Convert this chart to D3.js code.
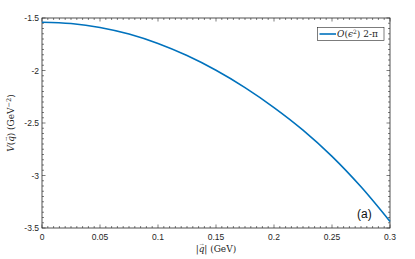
<!DOCTYPE html>
<html>
<head>
<meta charset="utf-8">
<script src="https://cdn.jsdelivr.net/npm/d3@7"></script>
<style>
  body { margin: 0; background: #fff; }
  svg { display: block; }
  .tick-label { font-family: 'Liberation Sans', Arial, sans-serif; font-size: 8.5px; fill: #262626; }
  .axis-title { font-family: 'DejaVu Serif', 'Liberation Serif', serif; font-size: 9px; fill: #262626; }
</style>
</head>
<body>
<div id="chart"></div>
<script>
// momentum |q| (GeV) and potential V(q) (GeV^-2)
var qValues = [0, 0.025, 0.05, 0.075, 0.1, 0.125, 0.15, 0.175, 0.2, 0.225, 0.25, 0.275, 0.3]
var vValues = [-1.540, -1.553, -1.590, -1.653, -1.743, -1.858, -1.998, -2.163, -2.353, -2.568, -2.818, -3.108, -3.438]

var xTicks = [0, 0.05, 0.1, 0.15, 0.2, 0.25, 0.3]
var xTickLabels = ['0', '0.05', '0.1', '0.15', '0.2', '0.25', '0.3']
var yTicks = [-1.5, -2, -2.5, -3, -3.5]
var yTickLabels = ['-1.5', '-2', '-2.5', '-3', '-3.5']

var seriesName = '2-\u03c0'

var svgWidth = 415
var svgHeight = 259
var margin = { top: 18, right: 25, bottom: 31, left: 42 }
var width = svgWidth - margin.left - margin.right
var height = svgHeight - margin.top - margin.bottom

var svg = d3.select('#chart')
  .append('svg')
  .attr('width', svgWidth)
  .attr('height', svgHeight)

var g = svg.append('g')
  .attr('transform', `translate(${margin.left}, ${margin.top})`)

var x = d3.scaleLinear().domain([0, 0.3]).range([0, width])
var y = d3.scaleLinear().domain([-3.5, -1.5]).range([height, 0])

var axisColor = '#262626'

// minor ticks (inward, all four sides)
var xMinor = d3.range(0, 61).map(i => i * 0.005)
var yMinor = d3.range(0, 41).map(i => -3.5 + i * 0.05)

var tickG = g.append('g').attr('stroke', axisColor).attr('stroke-width', 0.6)

xMinor.forEach(function (v) {
  var major = xTicks.some(t => Math.abs(t - v) < 1e-9)
  var len = major ? 3.5 : 2
  tickG.append('line').attr('x1', x(v)).attr('x2', x(v)).attr('y1', height).attr('y2', height - len)
  tickG.append('line').attr('x1', x(v)).attr('x2', x(v)).attr('y1', 0).attr('y2', len)
})
yMinor.forEach(function (v) {
  var major = yTicks.some(t => Math.abs(t - v) < 1e-9)
  var len = major ? 3.5 : 2
  tickG.append('line').attr('x1', 0).attr('x2', len).attr('y1', y(v)).attr('y2', y(v))
  tickG.append('line').attr('x1', width).attr('x2', width - len).attr('y1', y(v)).attr('y2', y(v))
})

// frame
g.append('rect')
  .attr('x', 0).attr('y', 0)
  .attr('width', width).attr('height', height)
  .attr('fill', 'none')
  .attr('stroke', axisColor)
  .attr('stroke-width', 0.8)

// tick labels
g.selectAll('.xlab')
  .data(xTicks)
  .enter()
  .append('text')
  .attr('class', 'tick-label')
  .attr('x', d => x(d))
  .attr('y', height + 12)
  .attr('text-anchor', 'middle')
  .text((d, i) => xTickLabels[i])

g.selectAll('.ylab')
  .data(yTicks)
  .enter()
  .append('text')
  .attr('class', 'tick-label')
  .attr('x', -3)
  .attr('y', d => y(d) + 3)
  .attr('text-anchor', 'end')
  .text((d, i) => yTickLabels[i])

// the curve
var data = qValues.map((q, i) => ({ q: q, v: vValues[i] }))
var line = d3.line()
  .x(d => x(d.q))
  .y(d => y(d.v))
  .curve(d3.curveCatmullRom)

g.append('path')
  .datum(data)
  .attr('fill', 'none')
  .attr('stroke', '#0072BD')
  .attr('stroke-width', 1.6)
  .attr('d', line)

// q with a small vector arrow on top, then the rest of the text back on the baseline
function vecQ (sel, rest) {
  sel.append('tspan').attr('font-style', 'italic').text('q')
  sel.append('tspan').attr('dx', -5.2).attr('dy', -6).attr('font-size', '5px').text('\u2192')
  sel.append('tspan').attr('dx', 0.6).attr('dy', 6).text(rest)
}

// axis titles
var xt = svg.append('text')
  .attr('class', 'axis-title')
  .attr('x', margin.left + width / 2)
  .attr('y', 252)
  .attr('text-anchor', 'middle')
xt.append('tspan').text('|')
vecQ(xt, '|  (GeV)')

var yt = svg.append('text')
  .attr('class', 'axis-title')
  .attr('transform', `translate(14, ${margin.top + height / 2}) rotate(-90)`)
  .attr('text-anchor', 'middle')
yt.append('tspan').attr('font-style', 'italic').text('V')
yt.append('tspan').text('(')
vecQ(yt, ')  (GeV')
yt.append('tspan').attr('dy', -3.5).attr('font-size', '6.5px').text('\u22122')
yt.append('tspan').attr('dy', 3.5).text(')')

// legend
var legend = g.append('g').attr('transform', `translate(${width - 72.5}, 9.5)`)
legend.append('rect')
  .attr('width', 66.5).attr('height', 13)
  .attr('fill', '#fff')
  .attr('stroke', axisColor)
  .attr('stroke-width', 0.6)
legend.append('line')
  .attr('x1', 2).attr('x2', 18.5)
  .attr('y1', 6.5).attr('y2', 6.5)
  .attr('stroke', '#0072BD')
  .attr('stroke-width', 1.6)
var lt = legend.append('text')
  .attr('class', 'axis-title')
  .attr('x', 19.5)
  .attr('y', 9.8)
lt.append('tspan').attr('font-style', 'italic').text('O')
lt.append('tspan').text('(')
lt.append('tspan').attr('font-style', 'italic').text('\u03f5')
lt.append('tspan').attr('dy', -3.5).attr('font-size', '6px').text('2')
lt.append('tspan').attr('dy', 3.5).text(') ' + seriesName)

// panel tag
g.append('text')
  .attr('x', width - 33)
  .attr('y', height - 10)
  .attr('font-family', "'Liberation Sans', Arial, sans-serif")
  .attr('font-size', '12px')
  .attr('fill', '#111')
  .text('(a)')
</script>
</body>
</html>
